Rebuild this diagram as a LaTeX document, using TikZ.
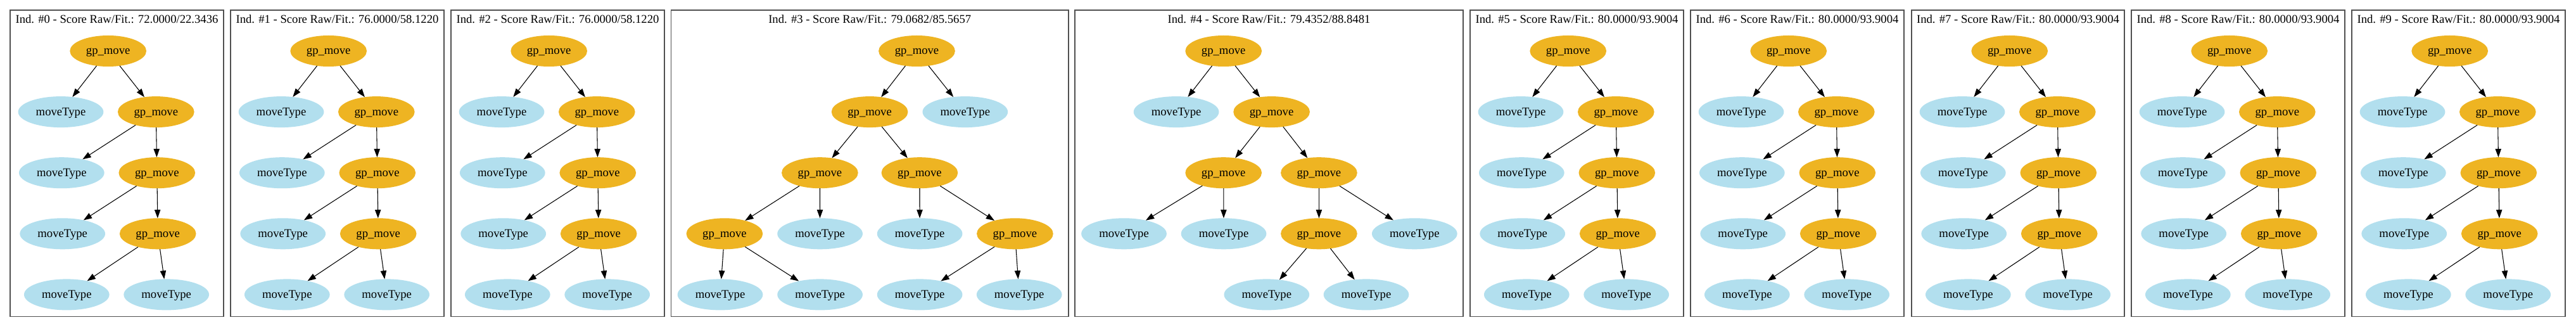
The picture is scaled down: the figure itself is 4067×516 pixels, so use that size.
\documentclass[tikz,border=0pt]{standalone}
\usepackage{fontspec}
\setmainfont{Liberation Serif}
\usetikzlibrary{shapes.geometric,arrows.meta}
\definecolor{gpcol}{RGB}{238,180,34}
\definecolor{mtcol}{RGB}{178,223,238}
\definecolor{boxcol}{RGB}{80,80,80}
\tikzset{
  basenode/.style={ellipse, draw=none, inner sep=0pt, outer sep=0pt,
    minimum height=36.75pt, font=\fontsize{14pt}{16pt}\selectfont,
    text height=8.2pt, text depth=0pt},
  gp/.style={basenode, fill=gpcol, minimum width=90.5pt},
  mt/.style={basenode, fill=mtcol, minimum width=101pt},
  edge/.style={draw=black, line width=0.8pt, -{Triangle[length=10pt,width=7pt]}},
  panelbox/.style={draw=boxcol, line width=1pt},
  paneltitle/.style={anchor=base, inner sep=0pt, font=\fontsize{14pt}{16pt}\selectfont}
}
% standard chain panel: #1 left x, #2 id, #3 right x, #4 score text
\newcommand\stdpanel[4]{%
  \draw[panelbox] (#1,16) rectangle (#3,499.5);
  \node[paneltitle] (p#2t) at ({(#1+#3)/2},36.7) {Ind. \##2 - Score Raw/Fit.: #4};
  \node[gp] (p#2r)  at (#1+154.7,80.5) {gp\_move};
  \node[mt] (p#2m1) at (#1+80.0,176.6) {moveType};
  \node[gp] (p#2g1) at (#1+230.3,176.6) {gp\_move};
  \node[mt] (p#2m2) at (#1+81.3,272.7) {moveType};
  \node[gp] (p#2g2) at (#1+231.8,272.7) {gp\_move};
  \node[mt] (p#2m3) at (#1+82.7,368.8) {moveType};
  \node[gp] (p#2g3) at (#1+233.2,368.8) {gp\_move};
  \node[mt] (p#2l1) at (#1+89.3,464.9) {moveType};
  \node[mt] (p#2l2) at (#1+246.7,464.9) {moveType};
  \draw[edge] (p#2r) -- (p#2m1);
  \draw[edge] (p#2r) -- (p#2g1);
  \draw[edge] (p#2g1) -- (p#2m2);
  \draw[edge] (p#2g1) -- (p#2g2);
  \draw[edge] (p#2g2) -- (p#2m3);
  \draw[edge] (p#2g2) -- (p#2g3);
  \draw[edge] (p#2g3) -- (p#2l1);
  \draw[edge] (p#2g3) -- (p#2l2);
}
\begin{document}
\begin{tikzpicture}[x=0.75pt,y=-0.75pt]
\useasboundingbox[fill=white] (0,0) rectangle (4067,516);
\stdpanel{16}{0}{353}{72.0000/22.3436}
\stdpanel{364}{1}{701}{76.0000/58.1220}
\stdpanel{712}{2}{1049}{76.0000/58.1220}
% panel 3
\draw[panelbox] (1059.5,16) rectangle (1687,499.5);
\node[paneltitle] (p3t) at (1373.2,36.7) {Ind. \#3 - Score Raw/Fit.: 79.0682/85.5657};
\node[gp] (p3r) at (1447.5,80.5) {gp\_move};
\node[gp] (p3a) at (1373.1,176.6) {gp\_move};
\node[mt] (p3b) at (1523.8,176.6) {moveType};
\node[gp] (p3c) at (1294.4,272.7) {gp\_move};
\node[gp] (p3d) at (1451.9,272.7) {gp\_move};
\node[gp] (p3e) at (1143.9,368.8) {gp\_move};
\node[mt] (p3f) at (1294.6,368.8) {moveType};
\node[mt] (p3g) at (1452.1,368.8) {moveType};
\node[gp] (p3h) at (1602.4,368.8) {gp\_move};
\node[mt] (p3i) at (1137.0,464.9) {moveType};
\node[mt] (p3j) at (1294.6,464.9) {moveType};
\node[mt] (p3k) at (1452.1,464.9) {moveType};
\node[mt] (p3l) at (1609.2,464.9) {moveType};
\draw[edge] (p3r) -- (p3a);
\draw[edge] (p3r) -- (p3b);
\draw[edge] (p3a) -- (p3c);
\draw[edge] (p3a) -- (p3d);
\draw[edge] (p3c) -- (p3e);
\draw[edge] (p3c) -- (p3f);
\draw[edge] (p3d) -- (p3g);
\draw[edge] (p3d) -- (p3h);
\draw[edge] (p3e) -- (p3i);
\draw[edge] (p3e) -- (p3j);
\draw[edge] (p3h) -- (p3k);
\draw[edge] (p3h) -- (p3l);
% panel 4
\draw[panelbox] (1697,16) rectangle (2310,499.5);
\node[paneltitle] (p4t) at (2003.5,36.7) {Ind. \#4 - Score Raw/Fit.: 79.4352/88.8481};
\node[gp] (p4r) at (1931.7,80.5) {gp\_move};
\node[mt] (p4a) at (1857.1,176.6) {moveType};
\node[gp] (p4b) at (2007.6,176.6) {gp\_move};
\node[gp] (p4c) at (1931.7,272.7) {gp\_move};
\node[gp] (p4d) at (2082.4,272.7) {gp\_move};
\node[mt] (p4e) at (1774.5,368.8) {moveType};
\node[mt] (p4f) at (1932.0,368.8) {moveType};
\node[gp] (p4g) at (2082.4,368.8) {gp\_move};
\node[mt] (p4h) at (2233.3,368.8) {moveType};
\node[mt] (p4i) at (1999.8,464.9) {moveType};
\node[mt] (p4j) at (2157.0,464.9) {moveType};
\draw[edge] (p4r) -- (p4a);
\draw[edge] (p4r) -- (p4b);
\draw[edge] (p4b) -- (p4c);
\draw[edge] (p4b) -- (p4d);
\draw[edge] (p4c) -- (p4e);
\draw[edge] (p4c) -- (p4f);
\draw[edge] (p4d) -- (p4g);
\draw[edge] (p4d) -- (p4h);
\draw[edge] (p4g) -- (p4i);
\draw[edge] (p4g) -- (p4j);
\stdpanel{2321}{5}{2658}{80.0000/93.9004}
\stdpanel{2669}{6}{3006}{80.0000/93.9004}
\stdpanel{3018}{7}{3354}{80.0000/93.9004}
\stdpanel{3365}{8}{3702}{80.0000/93.9004}
\stdpanel{3713}{9}{4050}{80.0000/93.9004}
\end{tikzpicture}
\end{document}
